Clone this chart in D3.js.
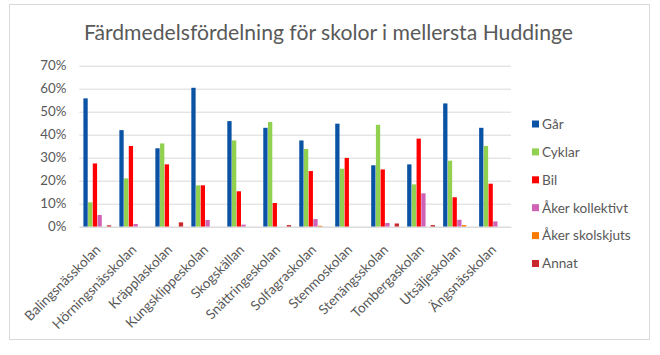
<!DOCTYPE html>
<html>
<head>
<meta charset="utf-8">
<script src="https://cdn.jsdelivr.net/npm/d3@7"></script>
<style>
  html, body { margin: 0; padding: 0; background: #fff; }
  svg { display: block; font-family: Lato, "Open Sans", sans-serif; }
</style>
</head>
<body>
<svg id="chart" width="660" height="355"></svg>
<script>
const title = "Färdmedelsfördelning för skolor i mellersta Huddinge";
const schools = ["Balingsnässkolan","Hörningsnässkolan","Kräpplaskolan","Kungsklippeskolan","Skogskällan","Snättringeskolan","Solfagraskolan","Stenmoskolan","Stenängsskolan","Tombergaskolan","Utsäljeskolan","Ängsnässkolan"];
const seriesNames = ["Går","Cyklar","Bil","Åker kollektivt","Åker skolskjuts","Annat"];
const gar        = [0.558,0.420,0.341,0.604,0.459,0.430,0.375,0.448,0.267,0.271,0.536,0.430];
const cyklar     = [0.106,0.210,0.362,0.180,0.375,0.455,0.338,0.252,0.443,0.184,0.287,0.351];
const bil        = [0.275,0.351,0.271,0.180,0.154,0.103,0.242,0.299,0.249,0.383,0.128,0.187];
const kollektivt = [0.051,0.012,0.000,0.029,0.009,0.000,0.033,0.000,0.016,0.145,0.030,0.023];
const skolskjuts = [0.000,0.000,0.000,0.000,0.000,0.000,0.004,0.000,0.000,0.000,0.007,0.000];
const annat      = [0.006,0.000,0.019,0.000,0.000,0.007,0.000,0.000,0.014,0.007,0.000,0.000];
const yTicks = [0,0.1,0.2,0.3,0.4,0.5,0.6,0.7];
const colors = ["#0a52a3","#92d050","#ff0000","#d062b4","#f97a00","#c8282b"];

const seriesValues = [gar, cyklar, bil, kollektivt, skolskjuts, annat];
const svg = d3.select("#chart");
const textColor = "#595959";

// frame
svg.append("rect").attr("x",9.5).attr("y",4.5).attr("width",640).attr("height",335)
  .attr("fill","#fff").attr("stroke","#d9d9d9");

// title
svg.append("text").attr("x",328.5).attr("y",40).attr("text-anchor","middle")
  .attr("fill",textColor).attr("font-size",22)
  .attr("textLength",489).attr("lengthAdjust","spacingAndGlyphs")
  .text(title);

const plotL = 79.3, plotR = 511, plotT = 65.7, plotB = 226.7;
const y = d3.scaleLinear().domain([0,0.7]).range([plotB, plotT]);
const x0 = d3.scaleBand().domain(schools).range([plotL, plotR]).paddingInner(0.217).paddingOuter(0.1085);
const x1 = d3.scaleBand().domain(seriesNames).range([0, x0.bandwidth()]);

// gridlines
const yAxis = d3.axisLeft(y).tickValues(yTicks).tickFormat(d3.format(".0%")).tickSize(-(plotR-plotL)).tickPadding(13);
const gy = svg.append("g").attr("transform",`translate(${plotL},0)`).call(yAxis);
gy.select(".domain").remove();
gy.selectAll(".tick line").attr("stroke","#d9d9d9").attr("stroke-width",1);
gy.selectAll(".tick text").attr("fill",textColor).attr("font-size",13.3).attr("font-family","Lato, sans-serif");

// bars
const groups = svg.append("g").selectAll("g").data(schools).join("g")
  .attr("transform", d => `translate(${x0(d)},0)`);
groups.selectAll("rect")
  .data((d,i) => seriesNames.map((s,j) => ({s, v: seriesValues[j][i], c: colors[j]})))
  .join("rect")
  .attr("x", d => x1(d.s) + 0.2)
  .attr("width", x1.bandwidth() - 0.4)
  .attr("y", d => y(d.v))
  .attr("height", d => plotB - y(d.v))
  .attr("fill", d => d.c);

// x axis baseline
const xAxis = d3.axisBottom(x0).tickSize(0).tickFormat("");
const gx = svg.append("g").attr("transform",`translate(0,${plotB})`).call(xAxis);
gx.select(".domain").attr("stroke","#d9d9d9");

// rotated category labels
svg.append("g").selectAll("text").data(schools).join("text")
  .attr("transform", d => `translate(${x0(d) + x0.bandwidth()/2 + 4},${plotB + 24}) rotate(-45)`)
  .attr("text-anchor","end")
  .attr("fill",textColor).attr("font-size",13.6)
  .text(d => d);

// legend
const legend = svg.append("g").selectAll("g").data(seriesNames).join("g")
  .attr("transform", (d,i) => `translate(532,${124 + i*27.9})`);
legend.append("rect").attr("x",0).attr("y",-3.5).attr("width",7).attr("height",7)
  .attr("fill",(d,i) => colors[i]);
legend.append("text").attr("x",10).attr("y",4.8).attr("fill",textColor).attr("font-size",13.6)
  .text(d => d);
</script>
</body>
</html>
